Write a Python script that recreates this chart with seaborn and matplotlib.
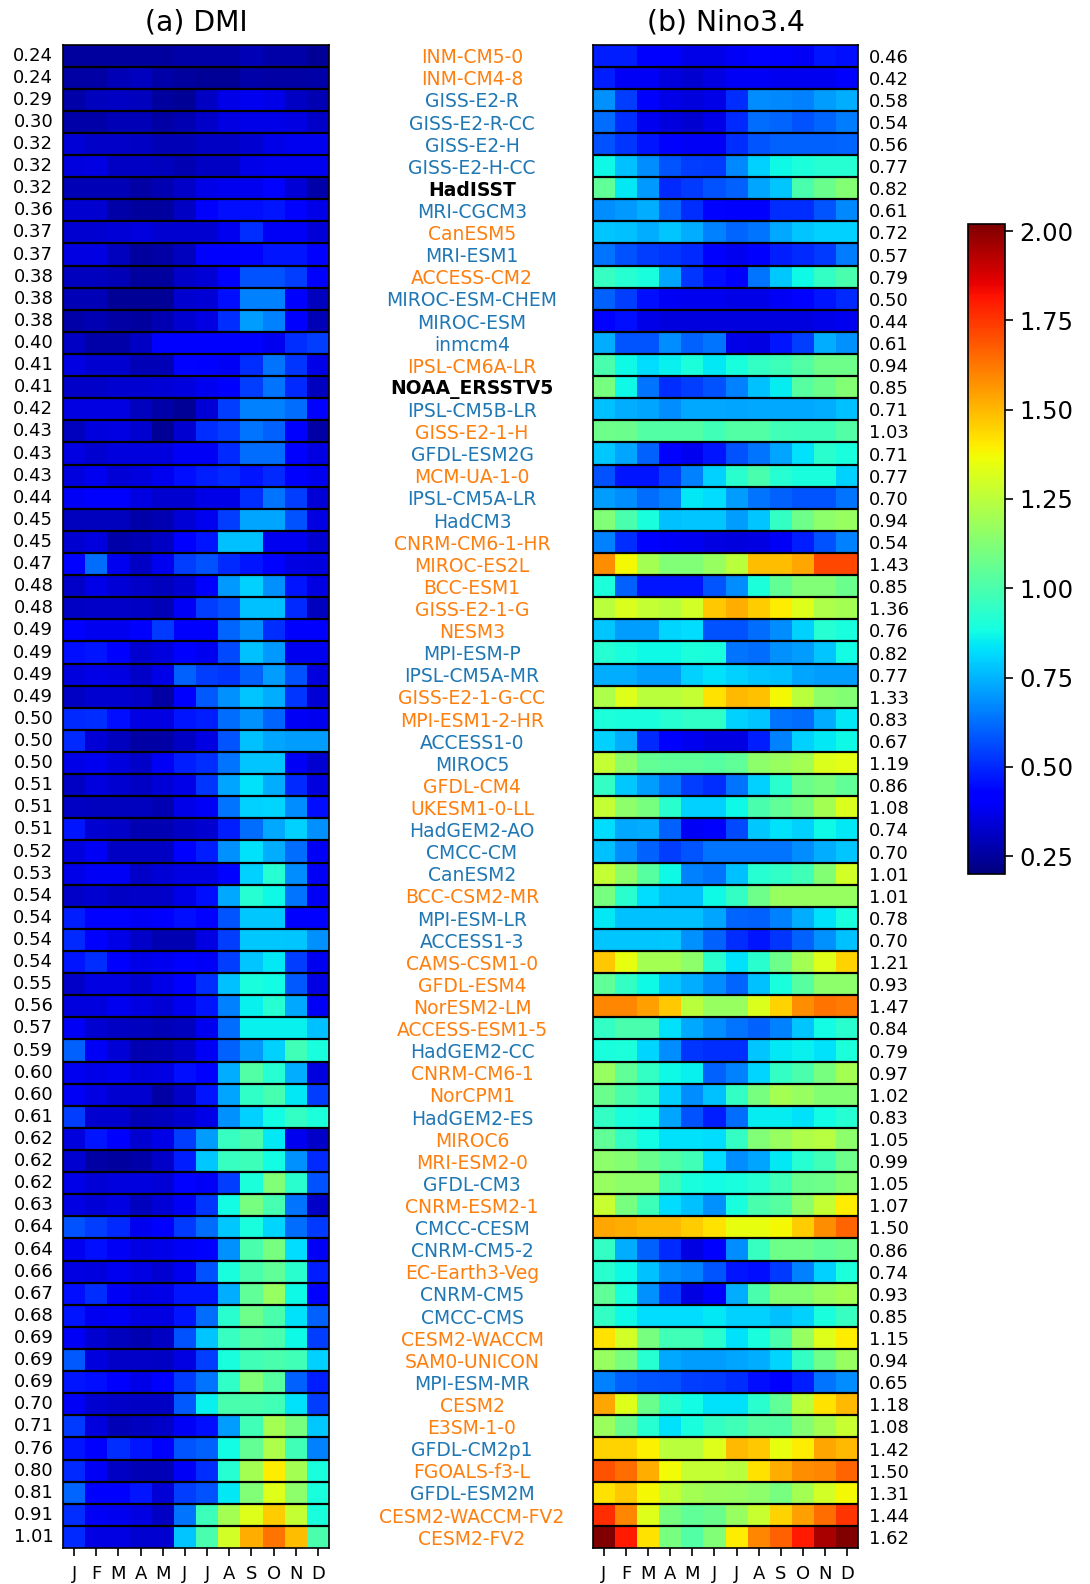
import matplotlib
matplotlib.use("Agg")
import matplotlib.pyplot as plt
import numpy as np
import seaborn as sns

months = list("JFMAMJJASOND")
names = ["INM-CM5-0","INM-CM4-8","GISS-E2-R","GISS-E2-R-CC","GISS-E2-H","GISS-E2-H-CC","HadISST","MRI-CGCM3","CanESM5","MRI-ESM1","ACCESS-CM2","MIROC-ESM-CHEM","MIROC-ESM","inmcm4","IPSL-CM6A-LR","NOAA_ERSSTV5","IPSL-CM5B-LR","GISS-E2-1-H","GFDL-ESM2G","MCM-UA-1-0","IPSL-CM5A-LR","HadCM3","CNRM-CM6-1-HR","MIROC-ES2L","BCC-ESM1","GISS-E2-1-G","NESM3","MPI-ESM-P","IPSL-CM5A-MR","GISS-E2-1-G-CC","MPI-ESM1-2-HR","ACCESS1-0","MIROC5","GFDL-CM4","UKESM1-0-LL","HadGEM2-AO","CMCC-CM","CanESM2","BCC-CSM2-MR","MPI-ESM-LR","ACCESS1-3","CAMS-CSM1-0","GFDL-ESM4","NorESM2-LM","ACCESS-ESM1-5","HadGEM2-CC","CNRM-CM6-1","NorCPM1","HadGEM2-ES","MIROC6","MRI-ESM2-0","GFDL-CM3","CNRM-ESM2-1","CMCC-CESM","CNRM-CM5-2","EC-Earth3-Veg","CNRM-CM5","CMCC-CMS","CESM2-WACCM","SAM0-UNICON","MPI-ESM-MR","CESM2","E3SM-1-0","GFDL-CM2p1","FGOALS-f3-L","GFDL-ESM2M","CESM2-WACCM-FV2","CESM2-FV2"]
observed = ["HadISST","NOAA_ERSSTV5"]
cmip6 = ["INM-CM5-0","INM-CM4-8","CanESM5","ACCESS-CM2","IPSL-CM6A-LR","GISS-E2-1-H","MCM-UA-1-0","CNRM-CM6-1-HR","MIROC-ES2L","BCC-ESM1","GISS-E2-1-G","NESM3","GISS-E2-1-G-CC","MPI-ESM1-2-HR","GFDL-CM4","UKESM1-0-LL","BCC-CSM2-MR","CAMS-CSM1-0","GFDL-ESM4","NorESM2-LM","ACCESS-ESM1-5","CNRM-CM6-1","NorCPM1","MIROC6","MRI-ESM2-0","CNRM-ESM2-1","EC-Earth3-Veg","CESM2-WACCM","SAM0-UNICON","CESM2","E3SM-1-0","FGOALS-f3-L","CESM2-WACCM-FV2","CESM2-FV2"]

dmi_mean = [.24,.24,.29,.30,.32,.32,.32,.36,.37,.37,.38,.38,.38,.40,.41,.41,.42,.43,.43,.43,.44,.45,.45,.47,.48,.48,.49,.49,.49,.49,.50,.50,.50,.51,.51,.51,.52,.53,.54,.54,.54,.54,.55,.56,.57,.59,.60,.60,.61,.62,.62,.62,.63,.64,.64,.66,.67,.68,.69,.69,.69,.70,.71,.76,.80,.81,.91,1.01]
nino_mean = [.46,.42,.58,.54,.56,.77,.82,.61,.72,.57,.79,.50,.44,.61,.94,.85,.71,1.03,.71,.77,.70,.94,.54,1.43,.85,1.36,.76,.82,.77,1.33,.83,.67,1.19,.86,1.08,.74,.70,1.01,1.01,.78,.70,1.21,.93,1.47,.84,.79,.97,1.02,.83,1.05,.99,1.05,1.07,1.50,.86,.74,.93,.85,1.15,.94,.65,1.18,1.08,1.42,1.50,1.31,1.44,1.62]

dmi = [
[.25,.25,.25,.25,.25,.27,.27,.27,.29,.27,.27,.24],
[.26,.26,.29,.30,.27,.25,.24,.24,.27,.26,.26,.27],
[.27,.30,.31,.30,.25,.24,.31,.37,.38,.37,.31,.28],
[.27,.27,.29,.29,.26,.28,.32,.36,.37,.37,.36,.32],
[.34,.32,.32,.31,.29,.29,.31,.31,.33,.37,.38,.38],
[.35,.36,.31,.31,.30,.28,.31,.31,.37,.38,.38,.38],
[.29,.29,.29,.26,.28,.32,.37,.38,.38,.43,.34,.27],
[.33,.33,.27,.25,.25,.31,.40,.45,.45,.47,.43,.37],
[.33,.33,.34,.35,.33,.33,.33,.38,.51,.39,.39,.34],
[.36,.36,.30,.25,.26,.30,.40,.42,.43,.47,.47,.40],
[.30,.30,.29,.25,.25,.32,.34,.43,.57,.57,.54,.40],
[.29,.29,.24,.24,.24,.33,.34,.45,.66,.66,.40,.30],
[.27,.28,.26,.25,.28,.33,.36,.51,.71,.66,.40,.29],
[.31,.27,.27,.31,.40,.42,.42,.40,.40,.38,.51,.54],
[.36,.33,.33,.29,.29,.43,.40,.39,.51,.64,.52,.37],
[.32,.32,.33,.33,.34,.35,.38,.42,.54,.64,.50,.30],
[.36,.36,.36,.30,.27,.24,.34,.54,.66,.66,.62,.43],
[.30,.35,.36,.33,.24,.33,.51,.54,.64,.60,.40,.26],
[.36,.33,.35,.35,.35,.39,.39,.50,.62,.62,.40,.36],
[.35,.38,.34,.35,.38,.45,.48,.50,.47,.50,.40,.38],
[.39,.42,.40,.36,.33,.33,.37,.37,.51,.64,.54,.34],
[.30,.30,.30,.27,.28,.34,.38,.54,.72,.72,.57,.36],
[.33,.35,.27,.28,.31,.40,.47,.77,.77,.38,.38,.33],
[.43,.62,.38,.31,.38,.54,.57,.50,.47,.43,.36,.35],
[.32,.37,.34,.32,.30,.33,.42,.70,.80,.69,.47,.36],
[.31,.32,.32,.31,.29,.39,.54,.57,.77,.77,.50,.30],
[.40,.38,.38,.40,.53,.42,.40,.61,.68,.51,.40,.40],
[.45,.47,.40,.33,.35,.40,.38,.56,.77,.70,.38,.38],
[.35,.37,.36,.32,.37,.60,.54,.52,.60,.71,.57,.35],
[.31,.33,.33,.32,.26,.40,.59,.69,.78,.74,.52,.34],
[.50,.51,.45,.36,.36,.47,.48,.62,.69,.61,.39,.38],
[.50,.34,.30,.26,.26,.31,.36,.58,.77,.72,.71,.71],
[.37,.38,.35,.32,.39,.48,.51,.64,.78,.78,.39,.33],
[.31,.35,.33,.31,.34,.37,.52,.72,.83,.74,.50,.35],
[.31,.30,.30,.30,.28,.37,.39,.64,.80,.81,.68,.45],
[.47,.33,.32,.28,.28,.31,.33,.48,.62,.73,.80,.69],
[.35,.39,.31,.31,.31,.40,.48,.69,.83,.74,.62,.39],
[.37,.39,.39,.32,.34,.36,.36,.43,.80,.92,.68,.39],
[.32,.33,.31,.32,.32,.37,.45,.73,.92,.87,.64,.39],
[.48,.43,.43,.39,.40,.45,.43,.58,.79,.79,.40,.40],
[.50,.40,.37,.32,.28,.28,.36,.54,.79,.79,.78,.69],
[.47,.51,.42,.37,.38,.42,.39,.54,.78,.84,.54,.38],
[.32,.36,.36,.33,.37,.40,.51,.77,.89,.88,.59,.36],
[.35,.35,.38,.36,.34,.38,.47,.66,.86,.92,.73,.39],
[.39,.33,.31,.30,.29,.30,.38,.62,.86,.86,.86,.77],
[.60,.39,.34,.28,.29,.32,.39,.60,.70,.80,.98,.89],
[.38,.37,.38,.35,.36,.45,.42,.74,1.02,.92,.74,.35],
[.39,.36,.33,.33,.26,.32,.47,.72,.94,.99,.84,.54],
[.54,.33,.33,.29,.30,.33,.37,.69,.80,.88,.95,.90],
[.35,.47,.40,.33,.37,.54,.71,.96,1.0,.84,.38,.32],
[.33,.26,.25,.27,.32,.48,.79,.96,.97,.88,.69,.50],
[.37,.34,.35,.35,.34,.43,.39,.54,.90,1.12,.93,.57],
[.36,.34,.36,.30,.34,.39,.52,.88,1.1,.99,.64,.32],
[.57,.54,.50,.38,.42,.53,.62,.79,.89,.81,.62,.53],
[.38,.45,.39,.36,.37,.39,.40,.69,1.0,1.1,.82,.39],
[.36,.35,.38,.36,.33,.38,.57,.89,1.0,1.05,.93,.48],
[.45,.51,.39,.36,.37,.47,.47,.74,1.05,1.17,.87,.40],
[.47,.38,.39,.36,.36,.47,.62,.93,1.08,1.0,.83,.60],
[.39,.33,.30,.28,.31,.57,.78,.96,1.02,1.0,.87,.54],
[.59,.35,.32,.32,.31,.36,.54,.89,.98,1.0,.98,.80],
[.47,.45,.40,.37,.40,.53,.64,.94,1.12,1.03,.60,.48],
[.39,.33,.32,.31,.31,.59,.86,1.0,1.0,.98,.83,.54],
[.53,.35,.29,.30,.32,.39,.45,.71,.98,1.2,1.1,.79],
[.47,.40,.51,.47,.40,.58,.60,.88,1.06,1.22,.98,.66],
[.50,.39,.31,.29,.29,.39,.51,.92,1.2,1.4,1.2,.89],
[.61,.40,.40,.47,.34,.54,.57,.84,1.12,1.33,1.15,.89],
[.51,.39,.38,.36,.31,.64,.97,1.2,1.33,1.46,1.27,.89],
[.50,.36,.36,.33,.33,.78,1.0,1.3,1.52,1.63,1.49,1.0],
]

nino = [
[.48,.48,.42,.40,.37,.37,.39,.43,.40,.39,.47,.45],
[.48,.39,.39,.35,.33,.36,.39,.39,.38,.38,.38,.42],
[.69,.54,.42,.37,.35,.37,.51,.68,.67,.66,.71,.74],
[.62,.51,.38,.35,.33,.37,.50,.62,.61,.57,.61,.65],
[.57,.52,.47,.40,.39,.39,.51,.58,.60,.60,.60,.61],
[.87,.77,.68,.58,.54,.53,.67,.80,.87,.90,.92,.92],
[1.05,.84,.70,.50,.53,.57,.60,.72,.78,1.0,1.07,1.13],
[.68,.70,.74,.61,.51,.43,.40,.42,.51,.51,.58,.67],
[.78,.77,.74,.78,.74,.66,.61,.64,.73,.78,.80,.80],
[.64,.57,.54,.52,.50,.42,.38,.42,.48,.50,.53,.65],
[.96,.92,.89,.72,.52,.45,.42,.64,.79,.87,.95,1.0],
[.60,.54,.45,.39,.38,.38,.37,.37,.39,.43,.47,.50],
[.43,.45,.37,.35,.35,.35,.35,.35,.35,.35,.37,.38],
[.74,.58,.58,.68,.60,.64,.37,.36,.47,.54,.74,.69],
[1.0,.87,.82,.86,.90,.84,.89,.95,.97,1.02,1.08,1.08],
[1.1,.87,.64,.51,.54,.57,.66,.77,.85,1.03,1.07,1.13],
[.77,.74,.72,.68,.73,.73,.72,.73,.73,.73,.74,.77],
[1.08,1.07,1.02,1.02,1.02,.98,1.02,1.02,.98,.97,.97,1.02],
[.79,.72,.60,.43,.38,.47,.57,.64,.72,.83,.93,.89],
[.57,.47,.47,.54,.66,.80,.93,1.0,.92,.89,.89,.80],
[.71,.68,.62,.66,.84,.82,.71,.64,.60,.58,.58,.64],
[1.12,1.0,.89,.77,.78,.78,.71,.78,.95,1.08,1.15,1.17],
[.66,.51,.40,.39,.38,.36,.35,.36,.39,.48,.57,.66],
[1.58,1.38,1.2,1.12,1.12,1.17,1.25,1.49,1.49,1.53,1.72,1.72],
[.9,.60,.47,.47,.47,.58,.68,.9,1.06,1.12,1.12,1.07],
[1.25,1.32,1.27,1.25,1.3,1.47,1.52,1.46,1.4,1.33,1.22,1.2],
[.78,.71,.71,.81,.82,.57,.57,.62,.68,.80,.92,.89],
[.92,.89,.87,.87,.9,.89,.64,.62,.69,.71,.78,.88],
[.74,.74,.71,.71,.80,.83,.80,.78,.77,.72,.71,.71],
[1.22,1.33,1.25,1.25,1.27,1.42,1.5,1.48,1.38,1.25,1.15,1.13],
[.9,.89,.89,.92,.94,.94,.80,.78,.64,.62,.74,.84],
[.80,.74,.50,.42,.38,.36,.36,.48,.66,.80,.84,.87],
[1.27,1.15,1.06,1.04,1.04,1.03,1.05,1.15,1.17,1.2,1.32,1.34],
[.95,.79,.71,.64,.54,.51,.64,.80,.93,1.07,1.1,1.05],
[1.27,1.15,1.1,.93,.80,.80,.87,1.0,1.05,1.1,1.2,1.32],
[.82,.73,.74,.60,.39,.42,.56,.79,.83,.80,.87,.84],
[.77,.68,.60,.54,.58,.64,.64,.64,.64,.68,.74,.78],
[1.27,1.15,1.03,.87,.66,.64,.77,.92,.94,.98,1.13,1.3],
[1.1,.93,.82,.77,.77,.87,.95,1.08,1.17,1.17,1.17,1.17],
[.84,.77,.77,.77,.77,.72,.61,.60,.66,.74,.83,.89],
[.78,.78,.78,.79,.69,.60,.51,.47,.52,.60,.69,.77],
[1.47,1.35,1.2,1.2,1.15,.93,.83,.93,1.08,1.2,1.33,1.45],
[1.05,.95,.87,.78,.74,.68,.61,.77,.89,1.03,1.15,1.15],
[1.6,1.6,1.55,1.47,1.25,1.17,1.17,1.32,1.45,1.58,1.63,1.62],
[.95,1.0,1.0,.83,.73,.68,.64,.60,.66,.78,.88,.93],
[.89,.9,.81,.68,.52,.51,.51,.78,.84,.86,.83,.9],
[1.17,1.05,.95,.87,.86,.60,.66,.81,.95,1.0,1.1,1.2],
[1.07,1.0,.95,.80,.68,.77,.95,1.1,1.2,1.17,1.13,1.13],
[.95,.89,.88,.72,.57,.48,.62,.85,.85,.83,.88,.92],
[1.05,.95,.88,.83,.83,.82,.95,1.12,1.17,1.22,1.24,1.15],
[1.15,1.13,1.07,1.02,.98,.82,.68,.72,.84,.92,.98,1.08],
[1.17,1.15,1.15,.97,.89,.88,.89,.92,.98,1.07,1.08,1.13],
[1.28,1.1,.97,.82,.77,.69,.89,1.0,1.03,1.15,1.27,1.4],
[1.53,1.52,1.5,1.5,1.46,1.42,1.35,1.35,1.38,1.46,1.58,1.66],
[.95,.74,.60,.50,.36,.40,.68,.96,1.08,1.08,1.05,1.07],
[.93,.87,.77,.68,.66,.58,.47,.45,.53,.66,.80,.9],
[1.05,.89,.69,.53,.36,.42,.74,1.0,1.13,1.13,1.17,1.2],
[.95,.87,.82,.82,.82,.84,.80,.80,.77,.80,.89,.96],
[1.42,1.3,1.1,.98,.98,.93,.83,.89,1.0,1.17,1.33,1.4],
[1.17,1.1,.92,.73,.71,.71,.72,.74,.81,.95,1.08,1.17],
[.66,.60,.58,.57,.54,.53,.51,.45,.40,.48,.64,.68],
[1.53,1.33,1.07,.93,.88,.83,.83,.93,1.05,1.25,1.42,1.5],
[1.18,1.07,.92,.83,.89,.95,.98,1.03,1.02,1.13,1.2,1.28],
[1.45,1.45,1.39,1.25,1.25,1.33,1.5,1.47,1.35,1.4,1.53,1.5],
[1.7,1.65,1.52,1.37,1.27,1.27,1.25,1.42,1.52,1.58,1.6,1.66],
[1.42,1.47,1.38,1.27,1.2,1.18,1.17,1.15,1.1,1.2,1.3,1.38],
[1.77,1.6,1.33,1.1,1.05,1.07,1.17,1.28,1.45,1.55,1.65,1.75],
[2.02,1.8,1.42,1.1,1.02,1.12,1.4,1.6,1.67,1.8,1.95,2.02],
]

cbar_ticks = [.25,.5,.75,1.0,1.25,1.5,1.75,2.0]
VMIN, VMAX = 0.2, 2.02
W, H = 1090, 1584
TOP, BOT = 44.5, 1548


def rect(x0, x1, y0, y1):
    return [x0 / W, 1 - y1 / H, (x1 - x0) / W, (y1 - y0) / H]


sns.set_theme(style="white")
plt.rcParams["font.family"] = ["DejaVu Sans"]
fig = plt.figure(figsize=(W / 100, H / 100), dpi=100)
ax1 = fig.add_axes(rect(63, 329, TOP, BOT))
ax2 = fig.add_axes(rect(593, 858, TOP, BOT))
cax = fig.add_axes(rect(968, 1005, 224, 874))

sns.heatmap(np.array(dmi), ax=ax1, cmap="jet", vmin=VMIN, vmax=VMAX, cbar=False)
sns.heatmap(np.array(nino), ax=ax2, cmap="jet", vmin=VMIN, vmax=VMAX,
            cbar=True, cbar_ax=cax, cbar_kws={"ticks": cbar_ticks})

for ax, title in ((ax1, "(a) DMI"), (ax2, "(b) Nino3.4")):
    ax.hlines(np.arange(1, len(names)), 0, 12, color="black", lw=1.6)
    for s in ax.spines.values():
        s.set_visible(True)
        s.set_color("black")
        s.set_linewidth(1.2)
    ax.set_title(title, fontsize=20.3, pad=10, color="black")
    ax.set_xticks(np.arange(12) + .5)
    ax.set_xticklabels(months, rotation=0, fontsize=13, color="black")
    ax.tick_params(axis="x", bottom=True, length=6, width=1.2, color="black", pad=6)
    ax.set_yticks(np.arange(len(names)) + .5)

ax1.set_yticklabels([f"{v:.2f}" for v in dmi_mean], rotation=0, fontsize=13, color="black")
ax1.tick_params(axis="y", left=False, pad=1)
ax2.yaxis.tick_right()
ax2.set_yticklabels([f"{v:.2f}" for v in nino_mean], rotation=0, fontsize=13, color="black")
ax2.tick_params(axis="y", right=False, left=False, pad=2)

center_x = (472 - 63) / (329 - 63)
tr = ax1.get_yaxis_transform()
for i, name in enumerate(names):
    if name in observed:
        color, weight = "black", "bold"
    elif name in cmip6:
        color, weight = "#ff7f0e", "normal"
    else:
        color, weight = "#1f77b4", "normal"
    ax1.text(center_x, i + .6, name, transform=tr, ha="center", va="center",
             fontsize=13.5, color=color, fontweight=weight, clip_on=False)

cb = ax2.collections[0].colorbar
cb.ax.tick_params(labelsize=17.5, length=6, width=1.2, color="black", labelcolor="black", right=True, pad=4)
cb.ax.set_yticklabels([f"{t:.2f}" for t in cbar_ticks])
cb.outline.set_visible(True)
cb.outline.set_edgecolor("black")
cb.outline.set_linewidth(1.2)

fig.savefig("out.png", dpi=100)
